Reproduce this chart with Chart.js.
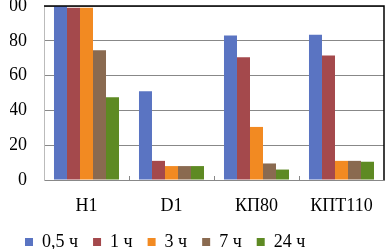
<!DOCTYPE html>
<html><head><meta charset="utf-8">
<script src="https://cdn.jsdelivr.net/npm/chart.js@4/dist/chart.umd.min.js"></script>
<style>html,body{margin:0;padding:0;background:#fff;overflow:hidden}#w{width:386px;height:249px;position:relative}</style>
</head><body><div id="w"><canvas id="c"></canvas></div>
<script>
const categories = ['H1', 'D1', 'КП80', 'КПТ110'];
const seriesNames = ['0,5 ч', '1 ч', '3 ч', '7 ч', '24 ч'];
const s05 = [100, 51, 83, 83.5];
const s1 = [99, 11, 70.5, 71.5];
const s3 = [99, 8, 30.5, 11];
const s7 = [74.5, 8, 9.5, 11];
const s24 = [47.5, 8, 6, 10.5];
const yTicks = [0, 20, 40, 60, 80, 100];
const colors = ['#5A74C2', '#A4494C', '#F28A22', '#8A6A50', '#5E8A23'];

const frame = {
  id: 'plotframe',
  afterDraw(chart) {
    const {ctx, chartArea: a} = chart;
    const x = chart.scales.x;
    ctx.save();
    ctx.strokeStyle = '#000';
    ctx.lineWidth = 1.5;
    ctx.beginPath();
    ctx.moveTo(a.left, a.top); ctx.lineTo(a.right, a.top); ctx.lineTo(a.right, a.bottom);
    ctx.stroke();
    ctx.strokeStyle = '#888';
    ctx.lineWidth = 1;
    for (let i = 1; i < categories.length; i++) {
      const xx = Math.round((x.getPixelForTick(i - 1) + x.getPixelForTick(i)) / 2) + 0.5;
      ctx.beginPath(); ctx.moveTo(xx, a.bottom - 4); ctx.lineTo(xx, a.bottom); ctx.stroke();
    }
    ctx.restore();
  }
};

new Chart(document.getElementById('c'), {
  type: 'bar',
  data: {
    labels: categories,
    datasets: [s05, s1, s3, s7, s24].map((d, i) => ({
      label: seriesNames[i], data: d, backgroundColor: colors[i],
      categoryPercentage: 0.765, barPercentage: 1
    }))
  },
  options: {
    responsive: true, maintainAspectRatio: false, animation: false,
    layout: {padding: {top: 6, left: 10, right: 2, bottom: -12}},
    plugins: {
      legend: {
        position: 'bottom', align: 'start',
        labels: {boxWidth: 8, boxHeight: 8, padding: 15, color: '#000',
          font: {family: 'Liberation Serif', size: 18}}
      },
      tooltip: {enabled: false}
    },
    scales: {
      x: {
        grid: {display: false, drawTicks: false},
        border: {display: true, color: '#888'},
        afterFit: s => { s.height = 38; s.paddingLeft = 0; s.paddingRight = 0; },
        ticks: {color: '#000', padding: 15, font: {family: 'Liberation Serif', size: 18}}
      },
      y: {
        min: 0, max: 100,
        afterBuildTicks: s => { s.ticks = yTicks.map(v => ({value: v})); },
        afterFit: s => { s.width = 34; s.paddingTop = 0; s.paddingBottom = 0; },
        grid: {color: '#888', drawTicks: false},
        border: {display: true, color: '#bbb'},
        ticks: {color: '#000', padding: 17, autoSkip: false, font: {family: 'Liberation Serif', size: 18}}
      }
    }
  },
  plugins: [frame]
});
</script></body></html>
